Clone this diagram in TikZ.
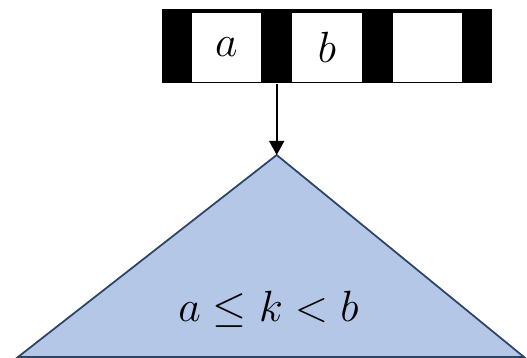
\documentclass[tikz,border=0pt]{standalone}
\usepackage{amsmath,amssymb}
\usepackage{tikz}
\usetikzlibrary{arrows.meta}

\definecolor{nodefill}{HTML}{B4C7E7}
\definecolor{nodeedge}{HTML}{2B4468}

\begin{document}
\begin{tikzpicture}[x=0.02cm,y=-0.02cm,
    bar/.style={fill=black,inner sep=0pt,minimum width=6.6cm,minimum height=1.48cm},
    cell/.style={fill=white,inner sep=0pt,minimum width=1.39cm,minimum height=1.38cm,font=\fontsize{27}{31}\selectfont},
    tri/.style={fill=nodefill,draw=nodeedge,line width=1pt,line join=miter},
    link/.style={line width=1.1pt,-{Triangle[width=8.5pt,length=8pt]}}]
    \useasboundingbox (0,0) rectangle (527,358);
    \node[bar] (bar) at (326.7,46.3) {};
    \node[cell] (ca) at (226.3,47.2) {$a$};
    \node[cell] (cb) at (327,47.2) {$b$};
    \node[cell] (cc) at (427.3,47.2) {};
    \coordinate (apex) at (276.7,155);
    \filldraw[tri] (apex) -- (18,357) -- (524,357) -- cycle;
    \node[font=\fontsize{27.5}{32}\selectfont] (range) at (268.5,309) {$a \leq k < b$};
    \draw[link] (bar.south -| apex) -- (apex);
  \end{tikzpicture}
\end{document}
